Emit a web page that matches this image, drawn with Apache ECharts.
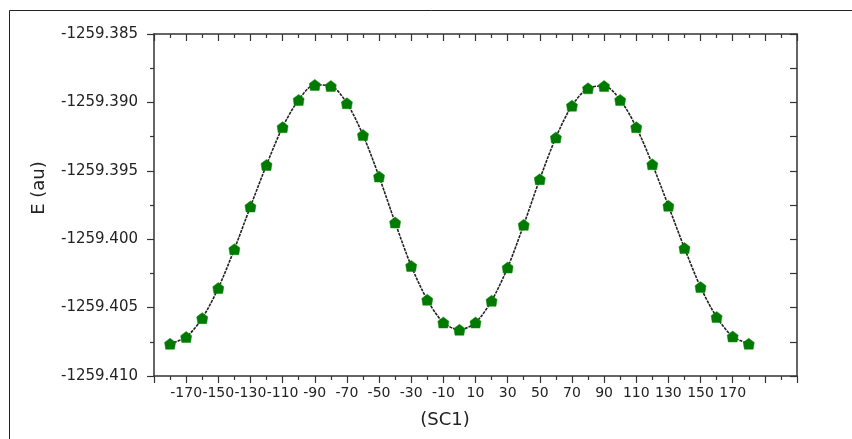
<!DOCTYPE html>
<html>
<head>
<meta charset="utf-8">
<script src="https://cdn.jsdelivr.net/npm/echarts@6/dist/echarts.min.js"></script>
<style>
html,body{margin:0;padding:0;background:#fff;}
#c{width:852px;height:439px;}
</style>
</head>
<body>
<div id="c"></div>
<script>
const angles = [-180,-170,-160,-150,-140,-130,-120,-110,-100,-90,-80,-70,-60,-50,-40,-30,-20,-10,0,10,20,30,40,50,60,70,80,90,100,110,120,130,140,150,160,170,180];
const energies = [-1259.40764,-1259.40715,-1259.40577,-1259.40357,-1259.40073,-1259.39761,-1259.39457,-1259.39181,-1259.38982,-1259.38872,-1259.38880,-1259.39006,-1259.39238,-1259.39542,-1259.39878,-1259.40195,-1259.40443,-1259.40609,-1259.40662,-1259.40609,-1259.40450,-1259.40207,-1259.39895,-1259.39561,-1259.39257,-1259.39024,-1259.38897,-1259.38880,-1259.38982,-1259.39181,-1259.39452,-1259.39756,-1259.40065,-1259.40350,-1259.40569,-1259.40711,-1259.40764];
const xLabelMin = -170, xLabelMax = 170;
const xTitle = '(SC1)';
const yTitle = 'E (au)';

const chart = echarts.init(document.getElementById('c'), null, {renderer:'canvas'});
const axisCol = '#333';
const txtCol = '#222';
const font = 'DejaVu Sans';
const axLine = {show:true, onZero:false, lineStyle:{color:axisCol, width:1.5}};
const minor = {show:true, splitNumber:2, length:4, lineStyle:{color:axisCol, width:1.2}};
const data = angles.map((a,i)=>[a, energies[i]]);

chart.setOption({
  animation:false,
  backgroundColor:'#fff',
  grid:{left:154, right:55, top:34, bottom:63},
  xAxis:[{
    type:'value', position:'bottom', min:-190, max:210, interval:20,
    axisLine:axLine,
    axisTick:{show:true, inside:false, length:7, lineStyle:{color:axisCol, width:1.2}},
    minorTick:minor,
    splitLine:{show:false}, minorSplitLine:{show:false},
    axisLabel:{margin:10, color:txtCol, fontFamily:font, fontSize:14, showMinLabel:true, showMaxLabel:true,
      formatter:v=> (v>=xLabelMin && v<=xLabelMax) ? String(v) : ''}
  },{
    type:'value', position:'top', min:-190, max:210, interval:20,
    axisLine:axLine,
    axisTick:{show:true, inside:true, length:7, lineStyle:{color:axisCol, width:1.2}},
    minorTick:minor,
    splitLine:{show:false}, minorSplitLine:{show:false},
    axisLabel:{show:false}
  }],
  yAxis:[{
    type:'value', position:'left', min:-1259.410, max:-1259.385, interval:0.005,
    axisLine:axLine,
    axisTick:{show:true, inside:false, length:7, lineStyle:{color:axisCol, width:1.2}},
    minorTick:minor,
    splitLine:{show:false}, minorSplitLine:{show:false},
    axisLabel:{margin:16, color:txtCol, fontFamily:font, fontSize:15,
      formatter:v=>v.toFixed(3)}
  },{
    type:'value', position:'right', min:-1259.410, max:-1259.385, interval:0.005,
    axisLine:axLine,
    axisTick:{show:true, inside:true, length:7, lineStyle:{color:axisCol, width:1.2}},
    minorTick:{show:true, splitNumber:2, length:7, lineStyle:{color:axisCol, width:1.2}},
    splitLine:{show:false}, minorSplitLine:{show:false},
    axisLabel:{show:false}
  }],
  series:[{
    type:'line',
    xAxisIndex:0, yAxisIndex:0,
    data:data,
    smooth:0.3,
    symbol:'path://M5,0 L10,3.8 L9,10 L1,10 L0,3.8 Z',
    symbolSize:11,
    itemStyle:{color:'#007a00', borderColor:'#0a8a0a', borderWidth:0.5},
    lineStyle:{color:'#222', width:1.6, type:[3,1]},
    z:3
  }],
  graphic:[
    {type:'rect', z:-10, silent:true,
     shape:{x:9.5, y:10.5, width:1000, height:1000},
     style:{fill:'none', stroke:'#222', lineWidth:1}},
    {type:'text', x:445, y:420,
     style:{text:xTitle, font:'18px "DejaVu Sans"', fill:txtCol, textAlign:'center', textVerticalAlign:'middle'}},
    {type:'text', x:39, y:188, rotation:Math.PI/2,
     style:{text:yTitle, font:'18px "DejaVu Sans"', fill:txtCol, textAlign:'center', textVerticalAlign:'middle'}}
  ]
});
</script>
</body>
</html>
